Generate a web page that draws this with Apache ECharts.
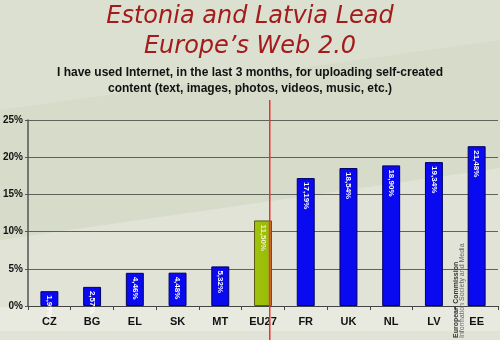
<!DOCTYPE html>
<html><head><meta charset="utf-8">
<script src="https://cdn.jsdelivr.net/npm/echarts@6/dist/echarts.min.js"></script>
<style>html,body{margin:0;padding:0;background:#d8dccb}#c{width:500px;height:340px}</style>
</head><body><div id="c"></div>
<script>
const categories = ['CZ','BG','EL','SK','MT','EU27','FR','UK','NL','LV','EE'];
const values = [1.99, 2.57, 4.46, 4.48, 5.32, 11.50, 17.19, 18.54, 18.90, 19.34, 21.48];
const yTicks = [0, 5, 10, 15, 20, 25];
const highlight = 'EU27';

const chart = echarts.init(document.getElementById('c'), null, {renderer:'canvas'});
const fmt = v => v.toFixed(2).replace('.', ',') + '%';

const bg = [
  {type:'rect', z:-10, shape:{x:0,y:0,width:500,height:340}, style:{fill:'#d7dbca'}},
  {type:'polygon', z:-9, shape:{points:[[0,0],[500,0],[500,40],[0,110]]}, style:{fill:'#dce0d1'}},
  {type:'polygon', z:-9, shape:{points:[[0,240],[500,168],[500,340],[0,340]]}, style:{fill:'#e0e3d6'}},
  {type:'rect', z:-8, shape:{x:0,y:307,width:500,height:24}, style:{fill:'#e8eae0'}},
  {type:'text', left:'center', top:2, z:5, style:{text:'Estonia and Latvia Lead\nEurope\u2019s Web 2.0', font:'italic 24px "DejaVu Sans", Verdana, sans-serif', fill:'#a31b1b', textAlign:'center', lineHeight:30}},
  {type:'text', left:'center', top:65, z:5, style:{text:'I have used Internet, in the last 3 months, for uploading self-created\ncontent (text, images, photos, videos, music, etc.)', font:'bold 12px "Liberation Sans", Arial, sans-serif', fill:'#111', textAlign:'center', lineHeight:16}}
];

chart.setOption({
  animation:false,
  backgroundColor:'transparent',
  graphic: bg,
  grid:{left:26, right:2, top:120, bottom:34, containLabel:false},
  xAxis:{type:'category', data:categories,
    axisLine:{lineStyle:{color:'#444', width:1}},
    axisTick:{show:true, alignWithLabel:false, length:4, lineStyle:{color:'#444'}},
    axisLabel:{color:'#111', fontWeight:'bold', fontSize:11, fontFamily:'"Liberation Sans", Arial, sans-serif', margin:10}
  },
  yAxis:{type:'value', min:0, max:25, interval:5,
    axisLine:{show:true, lineStyle:{color:'#555', width:1.5}},
    axisTick:{show:true, length:3, lineStyle:{color:'#555'}},
    splitLine:{lineStyle:{color:'#5f635a', width:1}},
    axisLabel:{color:'#111', fontWeight:'bold', fontSize:10, fontFamily:'"Liberation Sans", Arial, sans-serif', margin:5, formatter: v => yTicks.includes(v) ? v + '%' : ''}
  },
  series:[{
    type:'bar', barWidth:'42%',
    data: values.map((v,i) => ({value:v, itemStyle: categories[i]===highlight
      ? {color:new echarts.graphic.LinearGradient(0,0,1,0,[{offset:0,color:'#a0c40c'},{offset:0.75,color:'#98bd08'},{offset:0.8,color:'#b0a020'},{offset:1,color:'#a89a1a'}]), borderColor:'#5a5a10', borderWidth:1}
      : {color:'#0a0af0', borderColor:'#000060', borderWidth:1},
      label: categories[i]===highlight ? {color:'#f0f0c0'} : {}
    })),
    label:{show:true, position:'insideTop', rotate:-90, align:'left', verticalAlign:'middle', distance:4,
      color:'#fff', fontWeight:'bold', fontSize:8, fontFamily:'"Liberation Sans", Arial, sans-serif',
      formatter: p => fmt(p.value)}
  }]
});

// decorative divider next to EU27 and source text
const idx = categories.indexOf(highlight);
const px0 = chart.convertToPixel({xAxisIndex:0}, categories[idx]);
const px1 = chart.convertToPixel({xAxisIndex:0}, categories[idx+1]);
const lx = Math.round(px0 + (px1-px0)*0.14);
const srcX = chart.convertToPixel({xAxisIndex:0}, categories[categories.length-2]) + (px1-px0)*0.6;
chart.setOption({graphic: bg.concat([
  {type:'rect', z:100, shape:{x:lx,y:100,width:1.5,height:240}, style:{fill:'#f03030'}},
  {type:'text', z:10, x:srcX, y:338, rotation:Math.PI/2, style:{text:'European Commission', font:'bold 7px "Liberation Sans", Arial, sans-serif', fill:'#333', textAlign:'left', textVerticalAlign:'bottom'}},
  {type:'text', z:10, x:srcX+6, y:338, rotation:Math.PI/2, style:{text:'Information Society and Media', font:'7px "Liberation Sans", Arial, sans-serif', fill:'#666', textAlign:'left', textVerticalAlign:'bottom'}}
])});
</script></body></html>
